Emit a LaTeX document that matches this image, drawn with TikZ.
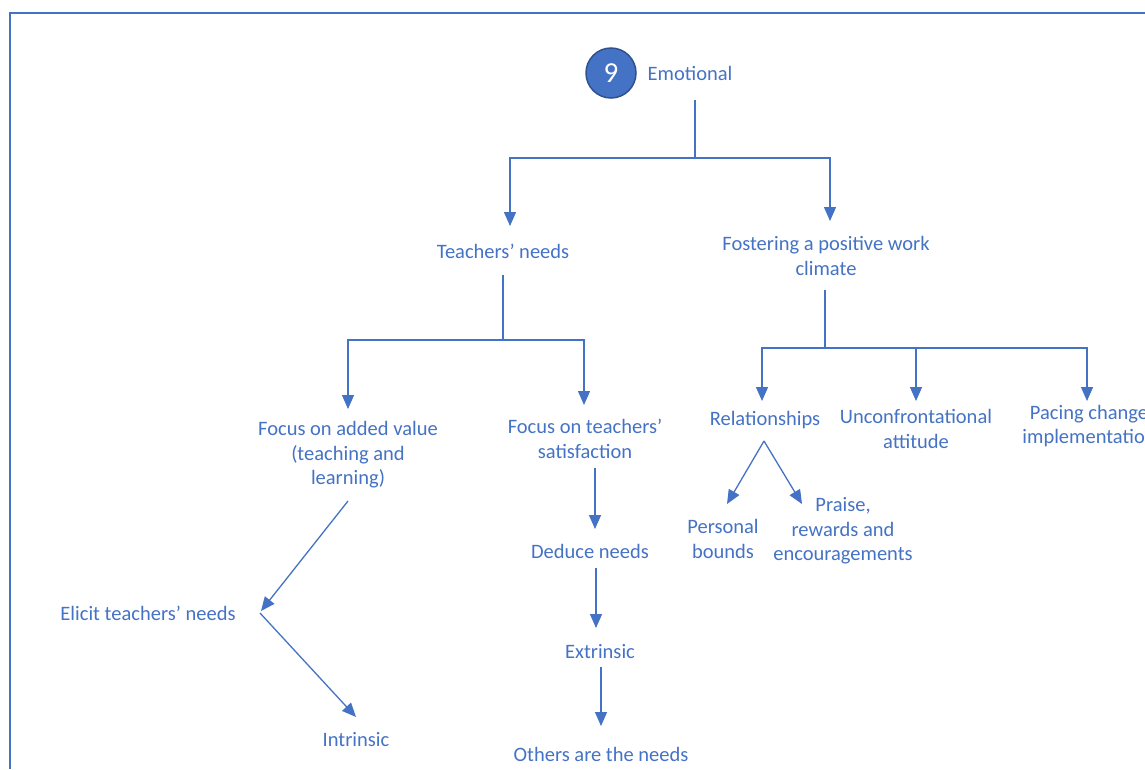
\documentclass[tikz,border=0pt]{standalone}
\usepackage{fontspec}
\setmainfont{Carlito}
\usetikzlibrary{arrows.meta}
\definecolor{accent}{HTML}{4472C4}
\definecolor{accentdark}{HTML}{2F528F}
\begin{document}
\begin{tikzpicture}[x=1pt,y=-1pt,
  lbl/.style={text=accent,font=\fontsize{20.5}{24.5}\selectfont,align=center,inner sep=0pt,anchor=center},
  link/.style={draw=accent,line width=1.3pt},
  arr/.style={link,-{Triangle[length=14pt,width=12pt]}}]
\useasboundingbox (0,0) rectangle (1145,769);
\clip (0,0) rectangle (1145,769);
% frame edges
\draw[accent,line width=2.4pt] (10,769) -- (10,13) -- (1150,13);

% root
\node[circle,fill=accent,draw=accentdark,line width=1.5pt,minimum size=50pt,inner sep=0pt,text=white,font=\fontsize{29}{32}\selectfont] (num) at (611,73) {9};
\node[lbl] (emo) at (690,73) {Emotional};

% first level
\node[lbl] (needs) at (503,251) {Teachers’ needs};
\node[lbl] (climate) at (826,256) {Fostering a positive work\\climate};

\coordinate (e0) at (695,100);
\coordinate (e1) at (695,158);
\coordinate (eL) at (510,158);
\coordinate (eR) at (830,158);
\coordinate (tL) at (510,226);
\coordinate (tR) at (830,221);
\draw[link] (e0) -- (e1);
\draw[arr] (e1) -- (eL) -- (tL);
\draw[arr] (e1) -- (eR) -- (tR);

% teachers' needs branch
\node[lbl] (added) at (348,455) {Focus on added value\\(teaching and\\learning)};
\node[lbl] (satis) at (585,439) {Focus on teachers’\\satisfaction};
\coordinate (n0) at (503,275);
\coordinate (n1) at (503,340);
\coordinate (nL) at (348,340);
\coordinate (nR) at (584,340);
\coordinate (aT) at (348,409);
\coordinate (sT) at (584,405);
\draw[link] (n0) -- (n1);
\draw[arr] (n1) -- (nL) -- (aT);
\draw[arr] (n1) -- (nR) -- (sT);

% satisfaction chain
\node[lbl] (deduce) at (590,551) {Deduce needs};
\node[lbl] (extr) at (600,652) {Extrinsic};
\node[lbl] (others) at (601,754) {Others are the needs};
\coordinate (s0) at (595,468);
\coordinate (s1) at (595,529);
\coordinate (d0) at (596,568);
\coordinate (d1) at (596,628);
\coordinate (x0) at (601,667);
\coordinate (x1) at (601,726);
\draw[arr] (s0) -- (s1);
\draw[arr] (d0) -- (d1);
\draw[arr] (x0) -- (x1);

% added value chain
\node[lbl] (elicit) at (148,613) {Elicit teachers’ needs};
\node[lbl] (intr) at (356,740) {Intrinsic};
\coordinate (a0) at (348,501);
\coordinate (a1) at (261,611);
\coordinate (i0) at (260,613);
\coordinate (i1) at (356,717);
\draw[arr] (a0) -- (a1);
\draw[arr] (i0) -- (i1);

% climate branch
\node[lbl] (rel) at (765,420) {Relationships};
\node[lbl] (unconf) at (916,429) {Unconfrontational\\attitude};
\node[lbl] (pacing) at (1089,426) {Pacing change\\implementation};
\coordinate (c0) at (825,290);
\coordinate (c1) at (825,348);
\coordinate (cL) at (762,348);
\coordinate (cM) at (916,348);
\coordinate (cR) at (1087,348);
\coordinate (rT) at (762,401);
\coordinate (uT) at (916,401);
\coordinate (pT) at (1087,401);
\draw[link] (c0) -- (c1);
\draw[arr] (c1) -- (cL) -- (rT);
\draw[arr] (c1) -- (cM) -- (uT);
\draw[arr] (cM) -- (cR) -- (pT);

% relationships split
\node[lbl] (pers) at (723,539) {Personal\\bounds};
\node[lbl] (praise) at (843,531) {Praise,\\rewards and\\encouragements};
\coordinate (r0) at (764,441);
\coordinate (r1) at (727,504);
\coordinate (r2) at (802,504);
\draw[arr] (r0) -- (r1);
\draw[arr] (r0) -- (r2);
\end{tikzpicture}
\end{document}
